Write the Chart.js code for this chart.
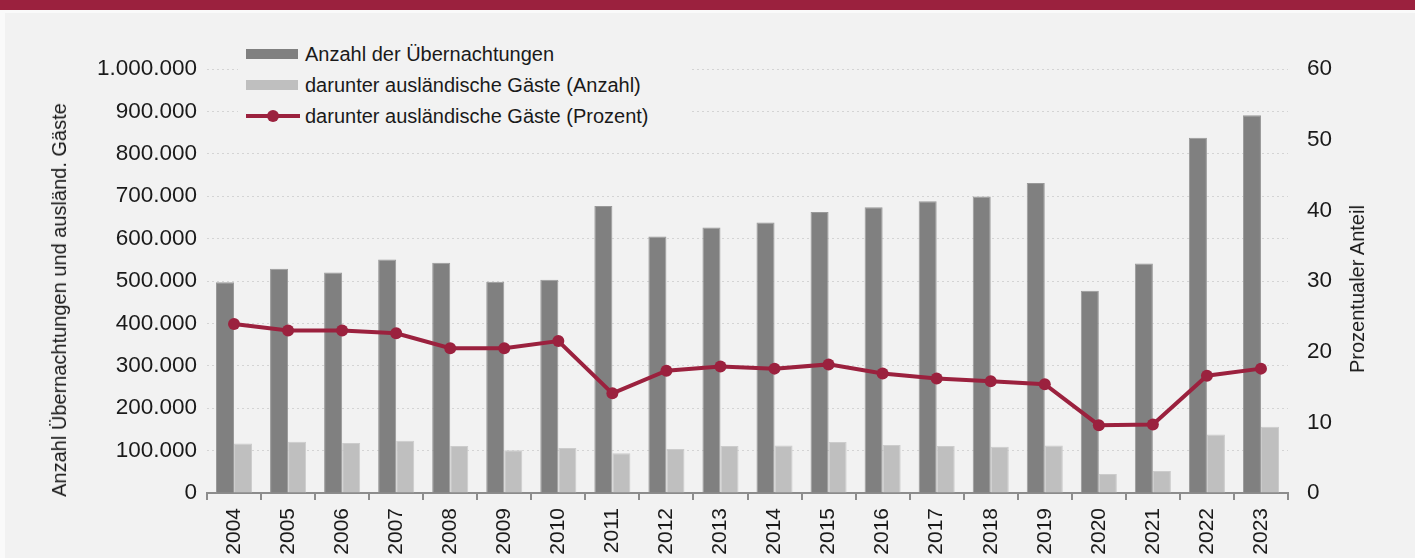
<!DOCTYPE html>
<html lang="de">
<head>
<meta charset="utf-8">
<title>Übernachtungen 2004–2023</title>
<script src="https://cdn.jsdelivr.net/npm/chart.js@4.4.1/dist/chart.umd.min.js"></script>
<style>
    html, body { margin: 0; padding: 0; }
    body { width: 1415px; height: 558px; position: relative; overflow: hidden; background: #fafafa; font-family: "Liberation Sans", Arial, sans-serif; }
    #band { position: absolute; left: 0; top: 0; width: 1415px; height: 10px; background: #9b213e; }
    #flaeche { position: absolute; left: 5px; top: 13px; right: 0; bottom: 0; background: #f2f2f2; }
    #grafik { position: absolute; left: 0; top: 0; }
    #legende { position: absolute; left: 238px; top: 40px; width: 452px; height: 92px; background: #f2f2f2; color: #1a1a1a; font-size: 20px; }
    .eintrag { position: absolute; left: 8px; height: 24px; line-height: 24px; white-space: nowrap; }
    .eintrag span.kasten { position: absolute; left: 0; top: 7px; width: 52px; height: 10px; }
    .eintrag span.linie { position: absolute; left: 0; top: 10px; width: 54px; height: 4px; background: #9b213e; }
    .eintrag span.punkt { position: absolute; left: 21px; top: 6px; width: 12px; height: 12px; border-radius: 50%; background: #9b213e; }
    .eintrag span.text { position: absolute; left: 59px; top: 0; }
    .achsentitel { position: absolute; white-space: nowrap; font-size: 20px; line-height: 24px; color: #1a1a1a;
        transform: translate(-50%, -50%) rotate(-90deg); }
</style>
</head>
<body>
<div id="band"></div>
<div id="flaeche"></div>
<canvas id="grafik" width="1415" height="558"></canvas>
<div id="legende">
    <div class="eintrag" style="top: 2px;"><span class="kasten" style="background:#808080;"></span><span class="text">Anzahl der Übernachtungen</span></div>
    <div class="eintrag" style="top: 33px;"><span class="kasten" style="background:#bfbfbf;"></span><span class="text">darunter ausländische Gäste (Anzahl)</span></div>
    <div class="eintrag" style="top: 64px;"><span class="linie"></span><span class="punkt"></span><span class="text">darunter ausländische Gäste (Prozent)</span></div>
</div>
<div class="achsentitel" style="left: 59px; top: 300px;">Anzahl Übernachtungen und ausländ. Gäste</div>
<div class="achsentitel" style="left: 1357px; top: 289px;">Prozentualer Anteil</div>
<script>
const jahre = ['2004', '2005', '2006', '2007', '2008', '2009', '2010', '2011', '2012', '2013',
    '2014', '2015', '2016', '2017', '2018', '2019', '2020', '2021', '2022', '2023'];
const uebernachtungen = [497000, 529000, 520000, 551000, 543000, 498000, 503000, 677000, 605000, 626000,
    638000, 663000, 674000, 688000, 699000, 731000, 477000, 541000, 838000, 891000];
const auslaendischAnzahl = [117000, 121000, 118000, 123000, 111000, 101000, 106000, 94000, 104000, 111000,
    112000, 120000, 113000, 111000, 109000, 112000, 45000, 52000, 138000, 156000];
const auslaendischProzent = [23.9, 23.0, 23.0, 22.6, 20.5, 20.5, 21.5, 14.1, 17.3, 17.9,
    17.6, 18.2, 16.9, 16.2, 15.8, 15.4, 9.6, 9.7, 16.6, 17.6];

const ROT = '#9b213e';
const SCHRIFT = '"Liberation Sans", Arial, sans-serif';

function tausender(wert) {
    return String(wert).replace(/\B(?=(\d{3})+(?!\d))/g, '.');
}

const ctx = document.getElementById('grafik').getContext('2d');
new Chart(ctx, {
    type: 'bar',
    data: {
        labels: jahre,
        datasets: [
            {
                type: 'line',
                label: 'darunter ausländische Gäste (Prozent)',
                data: auslaendischProzent,
                yAxisID: 'y1',
                borderColor: ROT,
                backgroundColor: ROT,
                borderWidth: 4,
                pointRadius: 6,
                pointBorderWidth: 0,
                tension: 0,
                order: 0
            },
            {
                label: 'Anzahl der Übernachtungen',
                data: uebernachtungen,
                yAxisID: 'y',
                backgroundColor: '#808080',
                borderColor: '#999999',
                borderWidth: 1,
                order: 1
            },
            {
                label: 'darunter ausländische Gäste (Anzahl)',
                data: auslaendischAnzahl,
                yAxisID: 'y',
                backgroundColor: '#bfbfbf',
                borderColor: '#cccccc',
                borderWidth: 1,
                order: 2
            }
        ]
    },
    options: {
        responsive: false,
        animation: false,
        datasets: {
            bar: { categoryPercentage: 0.667, barPercentage: 1.0 }
        },
        layout: { padding: { top: 69, left: 0, right: 0, bottom: 0 } },
        plugins: {
            legend: { display: false },
            tooltip: { enabled: false }
        },
        scales: {
            x: {
                offset: true,
                grid: {
                    offset: true,
                    drawOnChartArea: false,
                    color: '#8c8c8c',
                    lineWidth: 2,
                    tickLength: 7
                },
                border: { color: '#8c8c8c', width: 2 },
                ticks: {
                    minRotation: 90,
                    maxRotation: 90,
                    padding: 8,
                    color: '#1a1a1a',
                    font: { family: SCHRIFT, size: 21 }
                },
                afterFit: (achse) => { achse.height = 65; }
            },
            y: {
                position: 'left',
                min: 0,
                max: 1000000,
                ticks: {
                    stepSize: 100000,
                    padding: 10,
                    color: '#1a1a1a',
                    font: { family: SCHRIFT, size: 22.5 },
                    callback: (wert) => tausender(wert)
                },
                grid: {
                    color: '#d4d4d4',
                    lineWidth: 1,
                    drawTicks: false
                },
                border: { display: false, dash: [2, 3] },
                afterFit: (achse) => { achse.width = 207; }
            },
            y1: {
                position: 'right',
                min: 0,
                max: 60,
                ticks: {
                    stepSize: 10,
                    padding: 19,
                    color: '#1a1a1a',
                    font: { family: SCHRIFT, size: 22.5 }
                },
                grid: { display: false, drawTicks: false },
                border: { display: false },
                afterFit: (achse) => { achse.width = 127; }
            }
        }
    }
});
</script>
</body>
</html>
